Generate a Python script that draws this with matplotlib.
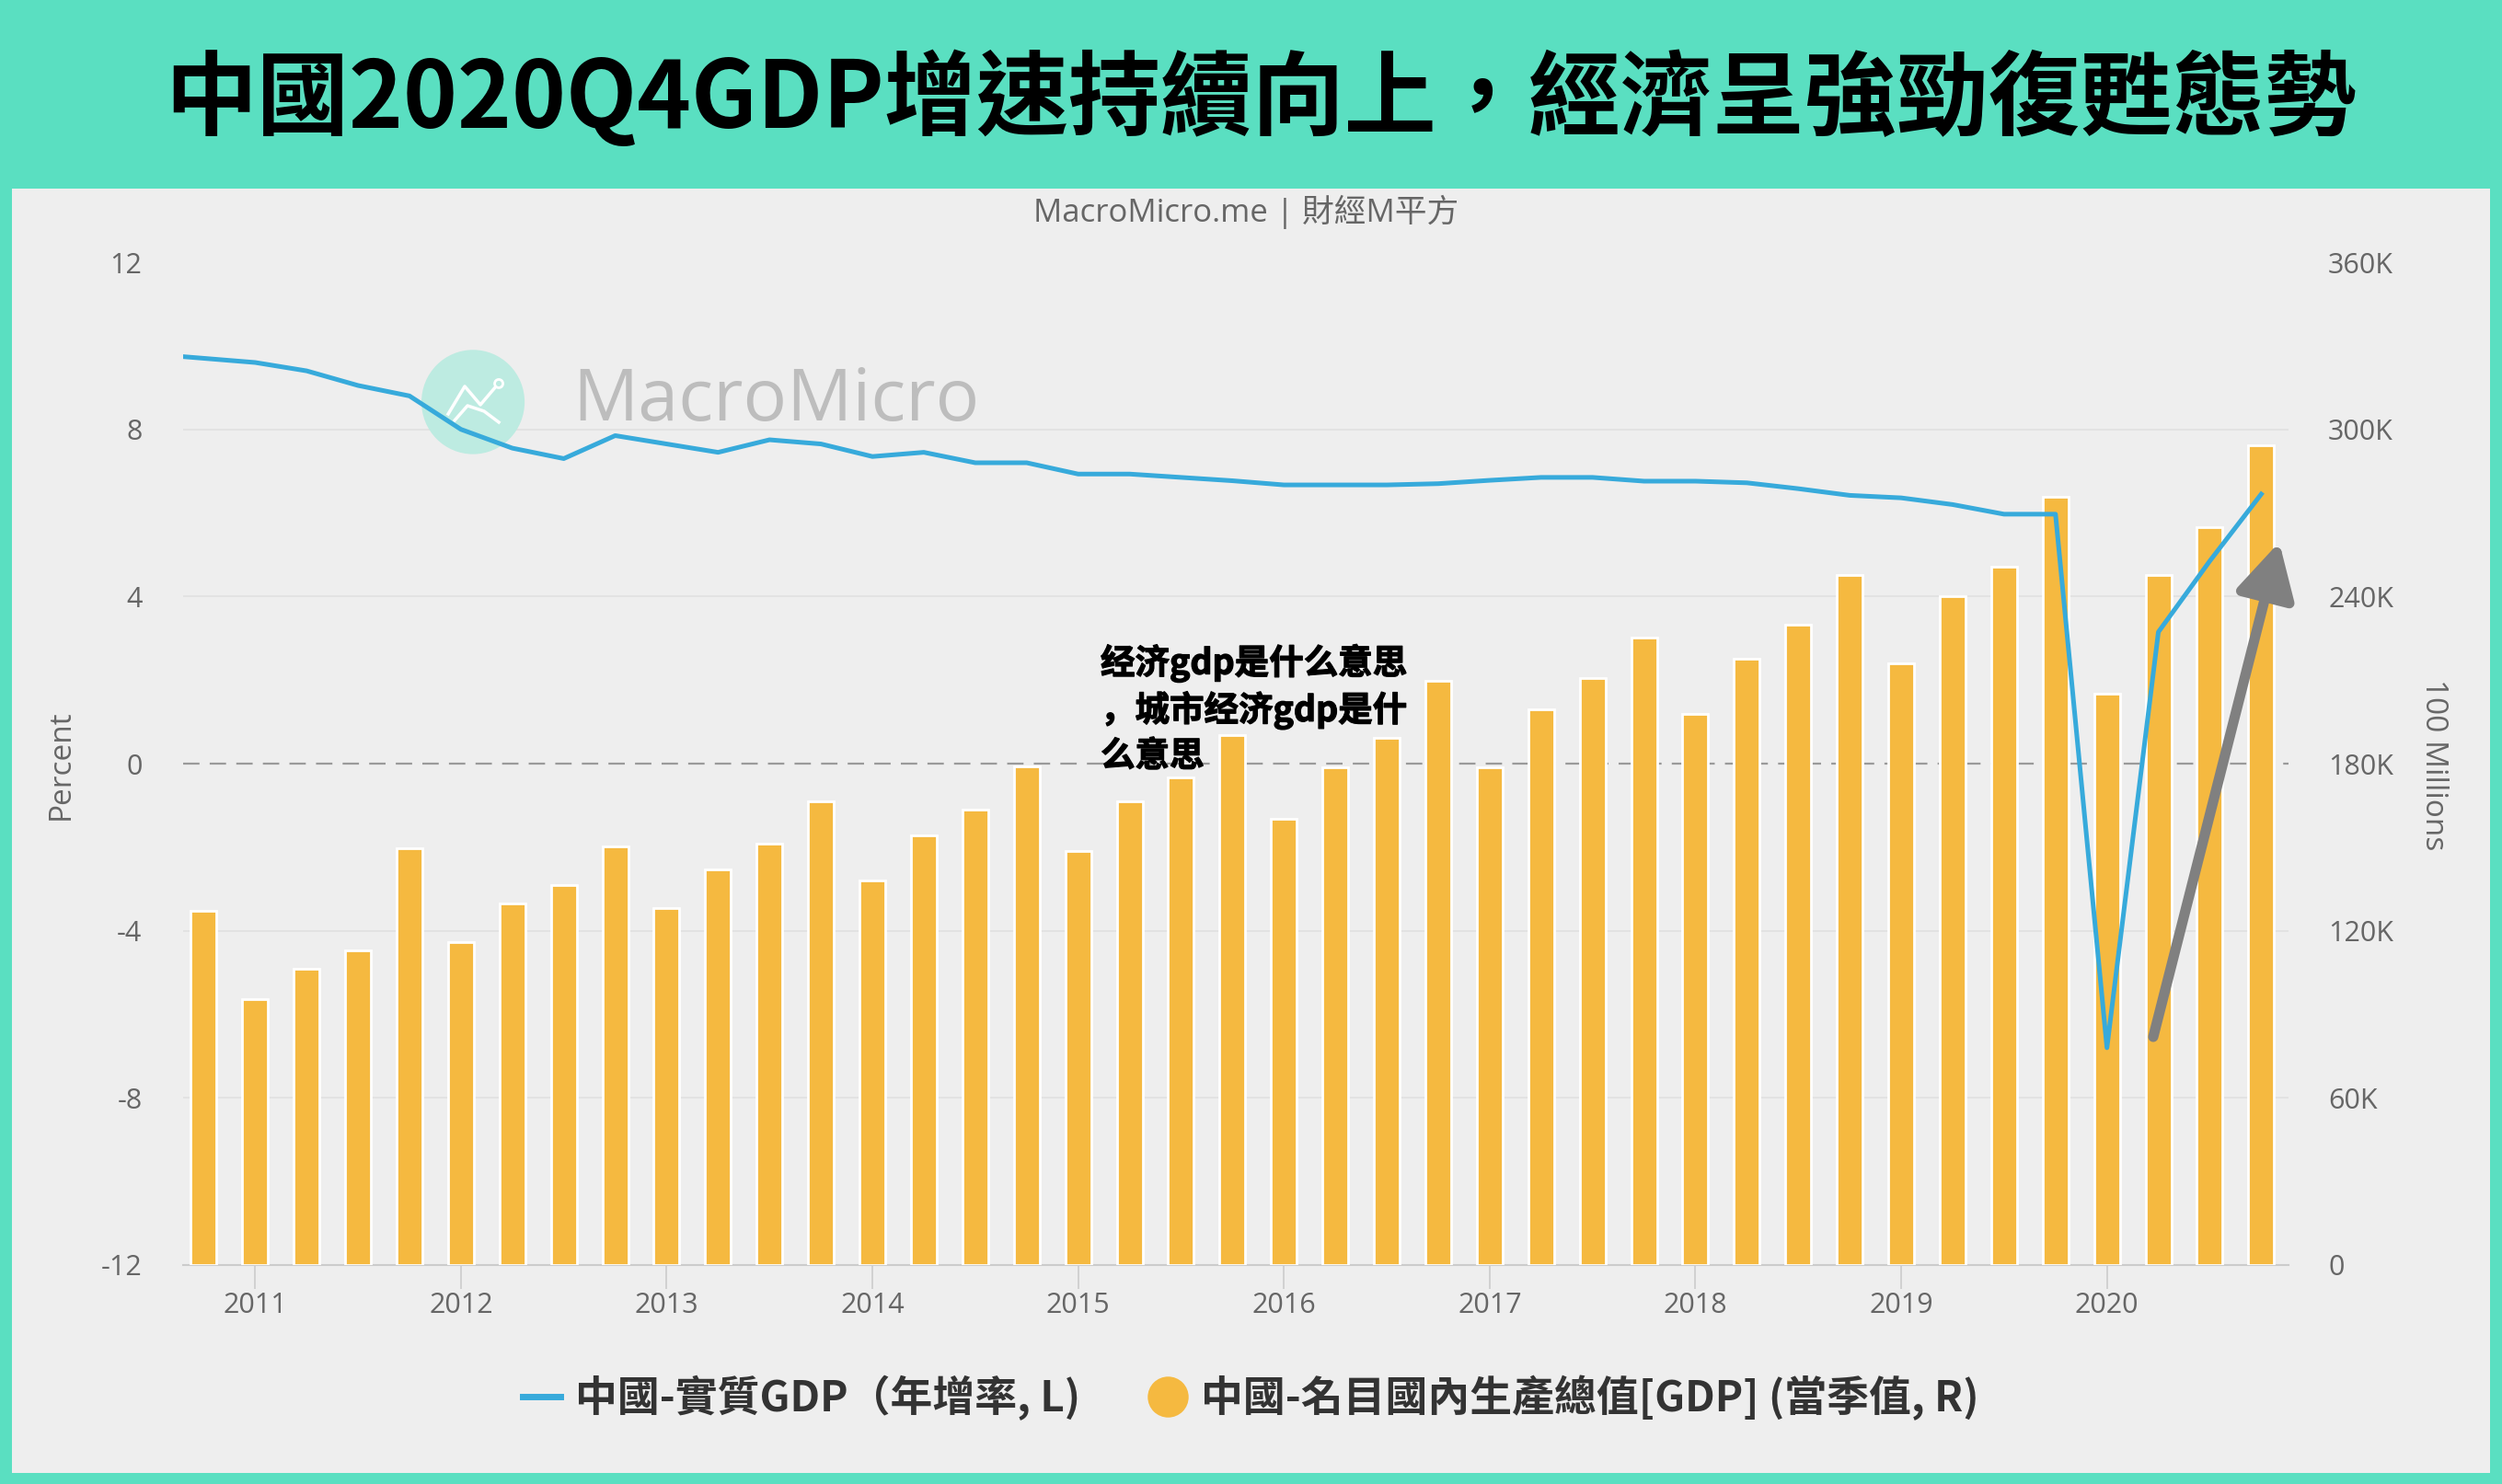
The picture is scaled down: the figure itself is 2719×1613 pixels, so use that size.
import matplotlib
matplotlib.use("Agg")
import matplotlib.pyplot as plt
import matplotlib.patheffects as pe
from matplotlib.patches import Rectangle, Ellipse
from matplotlib.lines import Line2D
import numpy as np
import pandas as pd

plt.rcParams['font.family'] = ['Open Sans', 'Noto Sans CJK TC', 'DejaVu Sans']

# --- data ---
line_quarters = pd.period_range('2010Q3', '2020Q4', freq='Q')
real_gdp_yoy = [9.8, 9.7,
                9.6, 9.4, 9.05, 8.8,
                8.0, 7.55, 7.3, 7.85,
                7.65, 7.45, 7.75, 7.65,
                7.35, 7.45, 7.2, 7.2,
                6.93, 6.93, 6.85, 6.77,
                6.67, 6.67, 6.67, 6.7,
                6.78, 6.85, 6.85, 6.76,
                6.76, 6.72, 6.58, 6.42,
                6.36, 6.2, 5.97, 5.97,
                -6.8, 3.15, 4.85, 6.45]

bar_quarters = line_quarters[1:]
nominal_gdp_k = [127.0,
                 95.5, 106.5, 113.0, 149.5,
                 115.8, 129.7, 136.3, 150.2,
                 128.0, 142.0, 151.3, 166.5,
                 138.2, 154.4, 163.6, 179.1,
                 148.6, 166.5, 175.1, 190.1,
                 160.2, 178.6, 189.1, 209.8,
                 178.8, 199.4, 210.6, 225.4,
                 197.7, 217.8, 230.0, 247.8,
                 216.0, 240.2, 250.6, 275.9,
                 205.1, 247.7, 265.0, 294.4]

left_ticks = [-12, -8, -4, 0, 4, 8, 12]
right_ticks = [0, 60, 120, 180, 240, 300, 360]
right_labels = ['0', '60K', '120K', '180K', '240K', '300K', '360K']

title = '中國2020Q4GDP增速持續向上，經濟呈強勁復甦態勢'
overlay = '经济gdp是什么意思\n，城市经济gdp是什\n么意思'
legend_labels = ['中國-實質GDP（年增率, L)', '中國-名目國內生產總值[GDP] (當季值, R)']

TEAL = '#5ADFC1'
PANEL = '#EEEEEE'
BLUE = '#37AADB'
ORANGE = '#F5B940'
GREY = '#666666'

W, H = 2719, 1613
fig = plt.figure(figsize=(W / 100, H / 100), dpi=100)
fig.patch.set_facecolor(TEAL)
fig.add_artist(Rectangle((13 / W, 1 - 1601 / H), (2706 - 13) / W, (1601 - 205) / H,
                         transform=fig.transFigure, facecolor=PANEL, edgecolor='none', zorder=-1))

# positions: 2010Q4 = 0
line_x = np.arange(len(line_quarters)) - 1
bar_x = np.arange(len(bar_quarters))
year_pos = [i for i, q in enumerate(bar_quarters) if q.quarter == 1]
year_labels = [str(bar_quarters[i].year) for i in year_pos]

ax_r = fig.add_axes([199 / W, 1 - 1375 / H, (2487 - 199) / W, (1375 - 285) / H])
ax_r.patch.set_visible(False)
ax_r.set_xlim(-0.4, 40.53)
ax_r.set_ylim(0, 360)

for v in right_ticks[1:-1]:
    if v == 180:
        ax_r.axhline(v, color='#9A9A9A', lw=1.6, dashes=(8, 5), zorder=1)
    else:
        ax_r.axhline(v, color='#E0E0E0', lw=1.2, zorder=1)

ax_r.bar(bar_x, nominal_gdp_k, width=0.5, color=ORANGE, edgecolor='white', linewidth=2, zorder=3)

# watermark
cx, cy = 0.1377, 0.8606
ax_r.add_patch(Ellipse((cx, cy), 0.049, 0.104, transform=ax_r.transAxes,
                       facecolor='#BDEBE1', edgecolor='none', zorder=2))
icon1 = [(-27, -13), (-9, 17), (8, -3), (25, 17)]
icon2 = [(-20, -20), (-6, -4), (12, -10), (28, -22)]
for pts in (icon1, icon2):
    ax_r.plot([cx + p[0] / 2288 for p in pts], [cy + p[1] / 1090 for p in pts],
              color='white', lw=2.5, transform=ax_r.transAxes, zorder=2)
ax_r.add_patch(Ellipse((cx + 28 / 2288, cy + 20 / 1090), 9 / 2288, 9 / 1090, transform=ax_r.transAxes,
                       facecolor='#BDEBE1', edgecolor='white', lw=2, zorder=2))
ax_r.text(0.185, 0.861, 'MacroMicro', transform=ax_r.transAxes, fontsize=57, color='#BDBDBD',
          ha='left', va='center', zorder=2)

ax_l = ax_r.twinx()
ax_l.set_ylim(-12, 12)
ax_l.plot(line_x, real_gdp_yoy, color=BLUE, lw=3.6, zorder=5, solid_joinstyle='round')

ax_r.yaxis.tick_right()
ax_l.yaxis.tick_left()
ax_r.set_yticks(right_ticks, right_labels)
ax_l.set_yticks(left_ticks, [str(t) for t in left_ticks])
ax_r.tick_params(axis='y', length=0, pad=31, labelsize=22, labelcolor=GREY)
ax_l.tick_params(axis='y', length=0, pad=32, labelsize=22, labelcolor=GREY)
ax_r.set_xticks(year_pos, year_labels)
ax_r.tick_params(axis='x', length=19, width=1.2, color='#CCCCCC', labelsize=22, labelcolor=GREY, pad=2)

for s in ax_r.spines.values():
    s.set_visible(False)
for s in ax_l.spines.values():
    s.set_visible(False)
ax_r.spines['bottom'].set_visible(True)
ax_r.spines['bottom'].set_color('#CCCCCC')
ax_r.spines['bottom'].set_linewidth(1.5)

# arrow
ax_l.annotate('', xy=(40.35, 5.3), xytext=(37.9, -6.54),
              arrowprops=dict(arrowstyle='-|>,head_length=1.2,head_width=0.65', color='#808080',
                              lw=8, mutation_scale=30, shrinkA=0, shrinkB=0),
              annotation_clip=False, zorder=6)

# texts
fig.text(0.504, 0.933, title, ha='center', va='center', fontsize=72, fontweight='bold',
         family=['Noto Sans CJK TC'], color='black')
fig.text(0.498, 0.857, 'MacroMicro.me | 財經M平方', ha='center', va='center', fontsize=25, color=GREY)
fig.text(66 / W, 1 - 831 / H, 'Percent', rotation=90, ha='center', va='center', fontsize=24, color=GREY)
fig.text(2644 / W, 1 - 831 / H, '100 Millions', rotation=270, ha='center', va='center', fontsize=24,
         color=GREY)
fig.text(1196 / W, 1 - 700 / H, overlay, ha='left', va='top', fontsize=27, fontweight='black',
         family=['Noto Sans CJK SC'], color='black', linespacing=1.3, zorder=10,
         path_effects=[pe.withStroke(linewidth=0.9, foreground='black')])

handles = [Line2D([0], [0], color=BLUE, lw=5),
           Line2D([0], [0], marker='o', color='none', markerfacecolor=ORANGE, markeredgecolor='none',
                  markersize=32)]
fig.legend(handles, legend_labels, loc='center', bbox_to_anchor=(0.5, 1 - 1519 / H), ncol=2,
           frameon=False, prop={'family': 'Noto Sans CJK TC', 'weight': 'bold', 'size': 33},
           handlelength=0.9, handletextpad=0.35, columnspacing=1.6, labelcolor='#333333')

fig.savefig('out.png', dpi=100, facecolor=TEAL)
